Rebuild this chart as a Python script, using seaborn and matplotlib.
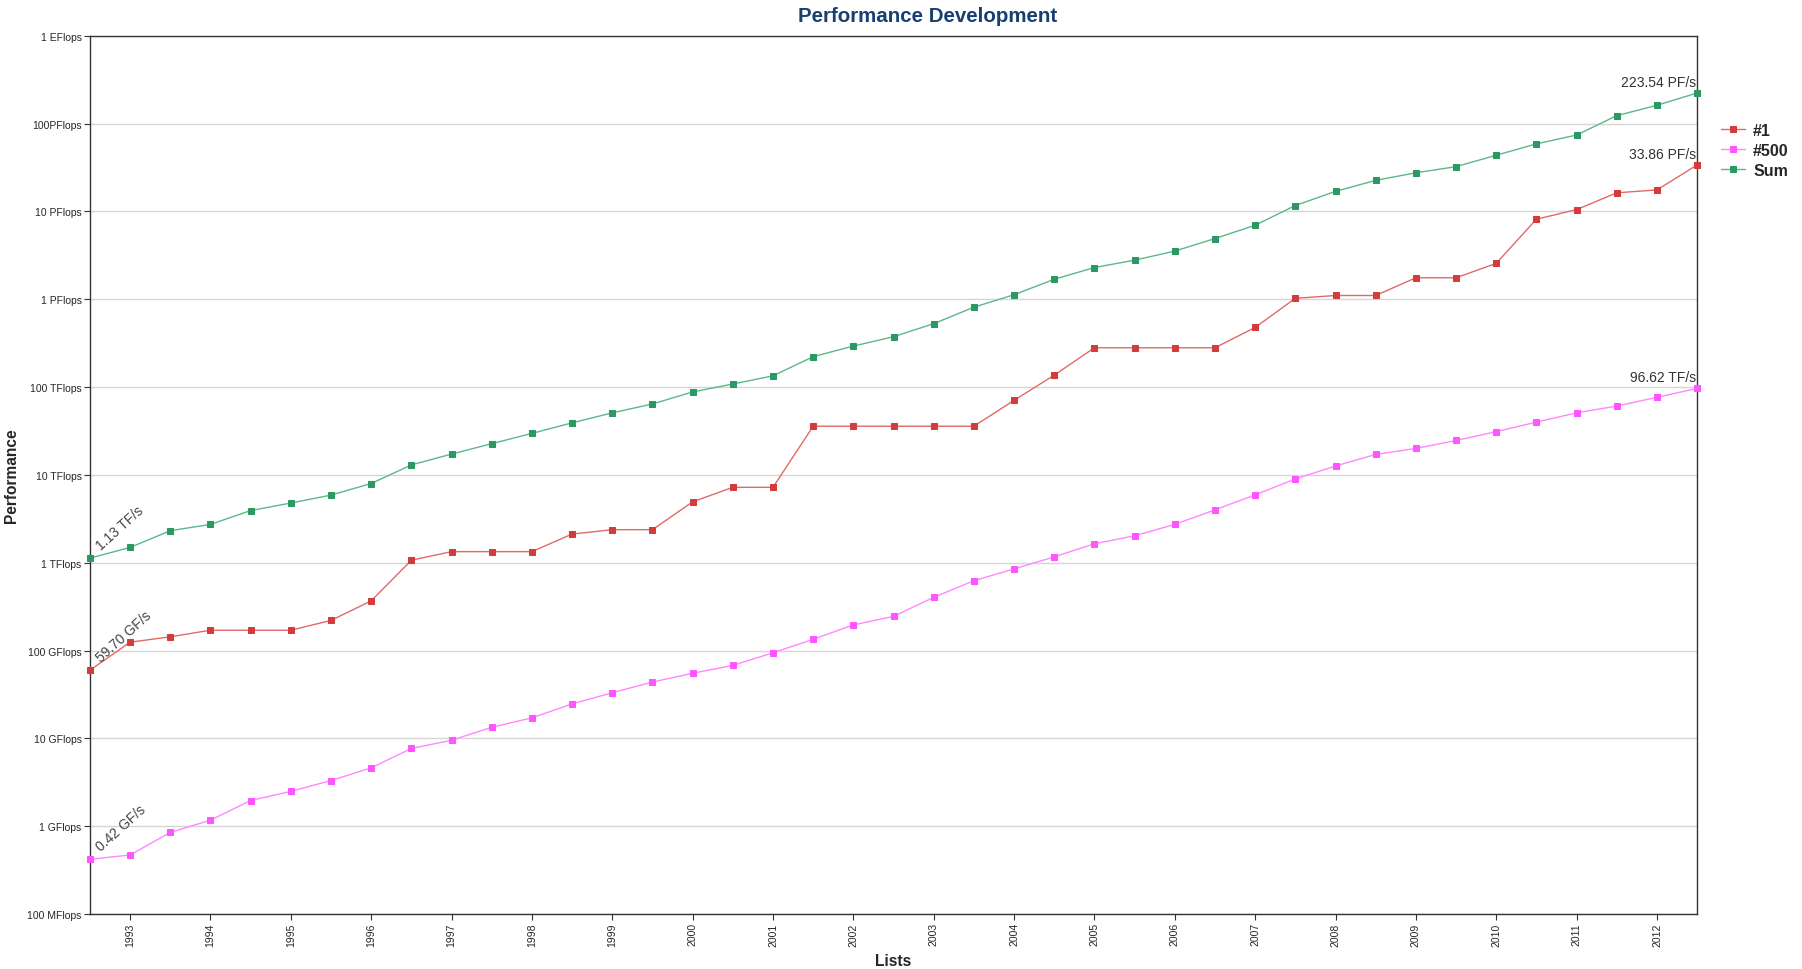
import numpy as np
import pandas as pd
import matplotlib
matplotlib.use("Agg")
import matplotlib.pyplot as plt
import seaborn as sns

# TOP500 lists, June 1993 .. June 2013 (values in GFlop/s)
list_index = list(range(41))
first_gf = [59.7, 124.5, 143.4, 170.4, 170.4, 170.4, 220.4, 368.2, 1068, 1338,
            1338, 1338, 2121, 2379, 2379, 4938, 7226, 7226, 35860, 35860,
            35860, 35860, 35860, 70720, 136800, 280600, 280600, 280600, 280600, 478200,
            1026000, 1105000, 1105000, 1759000, 1759000, 2566000, 8162000, 10510000,
            16324750, 17590000, 33862700]
last_gf = [0.42, 0.47, 0.85, 1.17, 1.96, 2.49, 3.31, 4.62, 7.67, 9.51,
           13.39, 17.12, 24.73, 33.08, 43.82, 55.1, 67.78, 94.3, 134.3, 195.8,
           245.1, 403.4, 624, 850.6, 1166, 1646, 2026, 2736, 4005, 5929,
           9000, 12640, 17100, 20050, 24670, 31120, 39960, 50940, 60820, 76500, 96620]
sum_gf = [1128.57, 1493.35, 2317.01, 2732.24, 3927.76, 4784.28, 5892.53, 7985.63,
          12999.98, 17267.4, 22684.5, 29713.2, 39179.1, 50935.9, 64255.2, 88092.6,
          108517, 134360, 222200, 293300, 374600, 528100, 813100, 1127000, 1690000,
          2300000, 2790000, 3540000, 4920000, 6970000, 11700000, 16950000, 22600000,
          27600000, 32400000, 43700000, 58900000, 74200000, 123400000, 162000000, 223540000]

year_labels = [str(y) for y in range(1993, 2013)]
year_ticks = list(range(1, 41, 2))
ytick_labels = ["100 MFlops", "1 GFlops", "10 GFlops", "100 GFlops", "1 TFlops",
                "10 TFlops", "100 TFlops", "1 PFlops", "10 PFlops", "100PFlops", "1 EFlops"]
start_labels = {"Sum": "1.13 TF/s", "#1": "59.70 GF/s", "#500": "0.42 GF/s"}
end_labels = {"Sum": "223.54 PF/s", "#1": "33.86 PF/s", "#500": "96.62 TF/s"}

df = pd.DataFrame({"list": list_index,
                   "#1": np.array(first_gf) * 1e9,
                   "#500": np.array(last_gf) * 1e9,
                   "Sum": np.array(sum_gf) * 1e9})

sns.set_style("white")
plt.rcParams["font.family"] = ["Liberation Sans", "DejaVu Sans"]

fig, ax = plt.subplots(figsize=(18.02, 9.70), dpi=100)
fig.subplots_adjust(left=0.0499, right=0.9418, top=0.962, bottom=0.0567)

styles = {
    "#1": ("#e06a6a", "#d23c3c"),
    "#500": ("#ff88ff", "#ff55ff"),
    "Sum": ("#5cb78a", "#2a9a62"),
}

for name in ["#1", "#500", "Sum"]:
    line_c, mark_c = styles[name]
    sns.lineplot(data=df, x="list", y=name, ax=ax, color=line_c, linewidth=1.0,
                 marker="s", markersize=3.8, markerfacecolor=mark_c,
                 markeredgecolor=mark_c, label=name, clip_on=False, zorder=3)

ax.set_yscale("log")
ax.set_ylim(1e8, 1e18)
ax.set_xlim(0, 40)
ax.set_yticks([10.0 ** k for k in range(8, 19)])
ax.set_yticklabels(ytick_labels, fontsize=7.5)
ax.yaxis.set_minor_locator(matplotlib.ticker.NullLocator())
ax.set_xticks(year_ticks)
ax.set_xticklabels(year_labels, rotation=90, fontsize=7.5)
ax.tick_params(axis="both", direction="out", length=4, width=0.8, color="#333333",
               left=True, bottom=True, pad=2)
ax.grid(axis="y", color="#d6d6d6", linewidth=1.0)
ax.set_axisbelow(True)
for sp in ax.spines.values():
    sp.set_color("#333333")
    sp.set_linewidth(1.0)

for name in ["#1", "#500", "Sum"]:
    ax.annotate(start_labels[name], xy=(df["list"].iloc[0], df[name].iloc[0]),
                xytext=(3, 4), textcoords="offset points", rotation=42,
                fontsize=10, color="#444444", ha="left", va="bottom")
    ax.annotate(end_labels[name], xy=(df["list"].iloc[-1], df[name].iloc[-1]),
                xytext=(-1, 3), textcoords="offset points",
                fontsize=10, color="#333333", ha="right", va="bottom")

# title sits a little right of the axes centre in the original
fig.text(0.5147, 0.9835, "Performance Development", fontsize=14.8, fontweight="bold",
         color="#173f70", ha="center", va="center")
ax.set_xlabel("Lists", fontsize=11.2, fontweight="bold", labelpad=5)
ax.set_ylabel("Performance", fontsize=11.2, fontweight="bold", labelpad=6)

leg = ax.legend(loc="upper left", bbox_to_anchor=(1.011, 0.908), frameon=False,
                prop={"weight": "bold", "size": 11.5}, handlelength=1.5,
                handletextpad=0.5, labelspacing=0.3, borderaxespad=0)

fig.savefig("out.png", dpi=100)
